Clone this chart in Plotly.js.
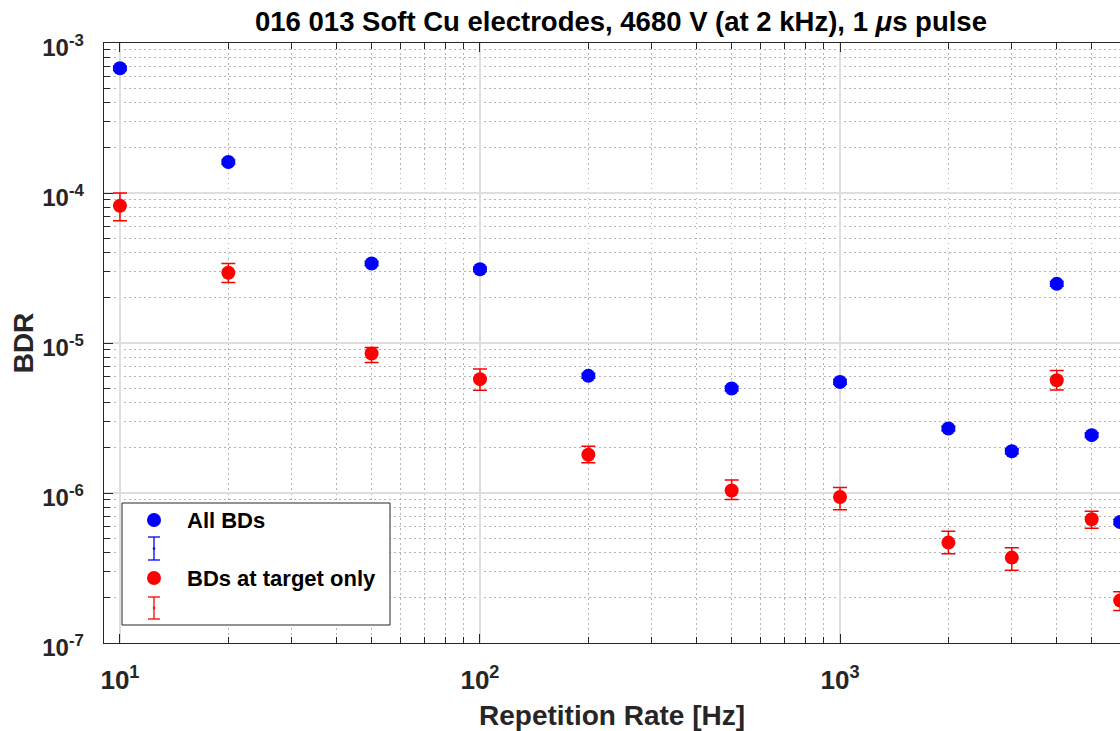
<!DOCTYPE html>
<html>
<head>
<meta charset="utf-8">
<script src="https://cdn.plot.ly/plotly-3.0.1.min.js"></script>
<style>html,body{margin:0;padding:0;background:#fff;}#chart{width:1120px;height:731px;}</style>
</head>
<body>
<div id="chart"></div>
<script>
// Repetition rates [Hz]
const repRate = [10, 20, 50, 100, 200, 500, 1000, 2000, 3000, 4000, 5000, 6000];
// All BDs
const bdrAll = [6.78e-4, 1.61e-4, 3.39e-5, 3.1e-5, 6.04e-6, 4.97e-6, 5.5e-6, 2.69e-6, 1.9e-6, 2.48e-5, 2.43e-6, 6.41e-7];
const bdrAllUpper = [7.0e-4, 1.66e-4, 3.5e-5, 3.2e-5, 6.25e-6, 5.15e-6, 5.7e-6, 2.79e-6, 1.97e-6, 2.57e-5, 2.52e-6, 6.65e-7];
const bdrAllLower = [6.56e-4, 1.56e-4, 3.28e-5, 3.0e-5, 5.83e-6, 4.8e-6, 5.3e-6, 2.6e-6, 1.83e-6, 2.39e-5, 2.35e-6, 6.17e-7];
// BDs at target only
const bdrTarget = [8.22e-5, 2.94e-5, 8.51e-6, 5.74e-6, 1.80e-6, 1.04e-6, 9.4e-7, 4.67e-7, 3.71e-7, 5.65e-6, 6.68e-7, 1.92e-7];
const bdrTargetUpper = [1.0e-4, 3.39e-5, 9.33e-6, 6.72e-6, 2.05e-6, 1.22e-6, 1.09e-6, 5.55e-7, 4.32e-7, 6.56e-6, 7.55e-7, 2.2e-7];
const bdrTargetLower = [6.52e-5, 2.53e-5, 7.41e-6, 4.84e-6, 1.59e-6, 9.04e-7, 7.74e-7, 3.94e-7, 3.05e-7, 4.86e-6, 5.81e-7, 1.65e-7];
// Tick labels
const xTickVals = [10, 100, 1000];
const xTickText = ['<b>10<sup>1</sup></b>', '<b>10<sup>2</sup></b>', '<b>10<sup>3</sup></b>'];
const yTickVals = [1e-7, 1e-6, 1e-5, 1e-4, 1e-3];
const yTickText = ['<b>10<sup>-7</sup></b>', '<b>10<sup>-6</sup></b>', '<b>10<sup>-5</sup></b>', '<b>10<sup>-4</sup></b>', '<b>10<sup>-3</sup></b>'];
const seriesNames = ['All BDs', 'BDs at target only'];
const seriesColors = ['#0000ff', '#ff0000'];

function minorVals(decades) {
  const out = [];
  decades.forEach(d => { for (let k = 2; k <= 9; k++) out.push(k * d); });
  return out;
}
const xMinor = minorVals([1, 10, 100, 1000]);
const yMinor = minorVals([1e-7, 1e-6, 1e-5, 1e-4]);

const font = 'Liberation Sans, Arial, Helvetica, sans-serif';
const axCol = '#262626';

function diffs(a, b) { return a.map((v, i) => v - b[i]); }

const traces = [
  {
    x: repRate, y: bdrAll, type: 'scatter', mode: 'markers', name: seriesNames[0],
    marker: {color: seriesColors[0], size: 14, symbol: 'circle', line: {width: 0}},
    error_y: {type: 'data', symmetric: false, array: diffs(bdrAllUpper, bdrAll), arrayminus: diffs(bdrAll, bdrAllLower),
      color: seriesColors[0], thickness: 1.5, width: 7, visible: true},
    showlegend: false, cliponaxis: true
  },
  {
    x: repRate, y: bdrTarget, type: 'scatter', mode: 'markers', name: seriesNames[1],
    marker: {color: seriesColors[1], size: 14, symbol: 'circle', line: {width: 0}},
    error_y: {type: 'data', symmetric: false, array: diffs(bdrTargetUpper, bdrTarget), arrayminus: diffs(bdrTarget, bdrTargetLower),
      color: seriesColors[1], thickness: 1.5, width: 7, visible: true},
    showlegend: false, cliponaxis: true
  }
];

// plot area in pixels: left 104, right 1120, top 43, bottom 643
const L = 104, R = 1120, T = 43, B = 643;
const px = v => (v - L) / (R - L);
const py = v => (B - v) / (B - T);

const shapes = [
  {type: 'rect', xref: 'paper', yref: 'paper', x0: px(122), x1: px(390), y0: py(625), y1: py(503),
   fillcolor: '#ffffff', line: {color: axCol, width: 1}, layer: 'above'}
];
const legendRows = [
  {marker: 520, errTop: 537, errBot: 560, color: seriesColors[0]},
  {marker: 578, errTop: 597, errBot: 619, color: seriesColors[1]}
];
const mx = 154;
legendRows.forEach(r => {
  shapes.push({type: 'circle', xref: 'paper', yref: 'paper', xsizemode: 'pixel', ysizemode: 'pixel',
    xanchor: px(mx), yanchor: py(r.marker), x0: -7, x1: 7, y0: -7, y1: 7,
    fillcolor: r.color, line: {width: 0}, layer: 'above'});
  shapes.push({type: 'line', xref: 'paper', yref: 'paper', x0: px(mx), x1: px(mx), y0: py(r.errTop), y1: py(r.errBot),
    line: {color: r.color, width: 1.3}, layer: 'above'});
  shapes.push({type: 'line', xref: 'paper', yref: 'paper', x0: px(mx - 6), x1: px(mx + 6), y0: py(r.errTop), y1: py(r.errTop),
    line: {color: r.color, width: 1.3}, layer: 'above'});
  shapes.push({type: 'line', xref: 'paper', yref: 'paper', x0: px(mx - 6), x1: px(mx + 6), y0: py(r.errBot), y1: py(r.errBot),
    line: {color: r.color, width: 1.3}, layer: 'above'});
  shapes.push({type: 'circle', xref: 'paper', yref: 'paper', xsizemode: 'pixel', ysizemode: 'pixel',
    xanchor: px(mx), yanchor: py((r.errTop + r.errBot) / 2), x0: -1.2, x1: 1.2, y0: -1.2, y1: 1.2,
    fillcolor: r.color, line: {width: 0}, layer: 'above'});
});

const annotations = [
  {xref: 'paper', yref: 'paper', x: px(185), y: py(520), xanchor: 'left', yanchor: 'middle', showarrow: false,
   text: '<b>' + seriesNames[0] + '</b>', font: {family: font, size: 22, color: '#000'}},
  {xref: 'paper', yref: 'paper', x: px(185), y: py(578), xanchor: 'left', yanchor: 'middle', showarrow: false,
   text: '<b>' + seriesNames[1] + '</b>', font: {family: font, size: 22, color: '#000'}}
];

const layout = {
  width: 1120, height: 731,
  margin: {l: L, r: 1120 - R, t: T, b: 731 - B, pad: 0},
  paper_bgcolor: '#ffffff', plot_bgcolor: '#ffffff',
  showlegend: false,
  title: {text: '<b>016 013 Soft Cu electrodes, 4680 V (at 2 kHz), 1 <i>μ</i>s pulse</b>',
    font: {family: font, size: 27.5, color: '#000'}, x: px(621), xref: 'paper', xanchor: 'center',
    y: 1 - 21 / 731, yref: 'container', yanchor: 'middle'},
  xaxis: {
    type: 'log', range: [Math.log10(9.03), Math.log10(9.03) + 2.822],
    tickvals: xTickVals, ticktext: xTickText, ticks: 'inside', ticklen: 9, tickwidth: 1, tickcolor: axCol,
    showline: true, linecolor: axCol, linewidth: 1.3, mirror: 'ticks',
    showgrid: true, gridcolor: '#dedede', gridwidth: 1.3, zeroline: false,
    tickfont: {family: font, size: 26, color: axCol}, ticklabelstandoff: 13,
    minor: {tickvals: xMinor, ticks: 'inside', ticklen: 6, tickcolor: axCol, showgrid: true,
      gridcolor: '#b4b4b4', griddash: '1.5px,3.5px', gridwidth: 1},
    title: {text: '<b>Repetition Rate [Hz]</b>', font: {family: font, size: 28, color: axCol}, standoff: 21},
    automargin: false
  },
  yaxis: {
    type: 'log', range: [-7, -3],
    tickvals: yTickVals, ticktext: yTickText, ticks: 'inside', ticklen: 9, tickwidth: 1, tickcolor: axCol,
    showline: true, linecolor: axCol, linewidth: 1.3, mirror: false,
    showgrid: true, gridcolor: '#dedede', gridwidth: 1.3, zeroline: false,
    tickfont: {family: font, size: 24, color: axCol}, ticklabelstandoff: 14, ticklabelshift: 5,
    minor: {tickvals: yMinor, ticks: 'inside', ticklen: 6, tickcolor: axCol, showgrid: true,
      gridcolor: '#b4b4b4', griddash: '1.5px,3.5px', gridwidth: 1},
    title: {text: '<b>BDR</b>', font: {family: font, size: 28, color: axCol}, standoff: 0},
    automargin: false
  },
  shapes: shapes,
  annotations: annotations
};

Plotly.newPlot('chart', traces, layout, {displayModeBar: false, staticPlot: true});
</script>
</body>
</html>
